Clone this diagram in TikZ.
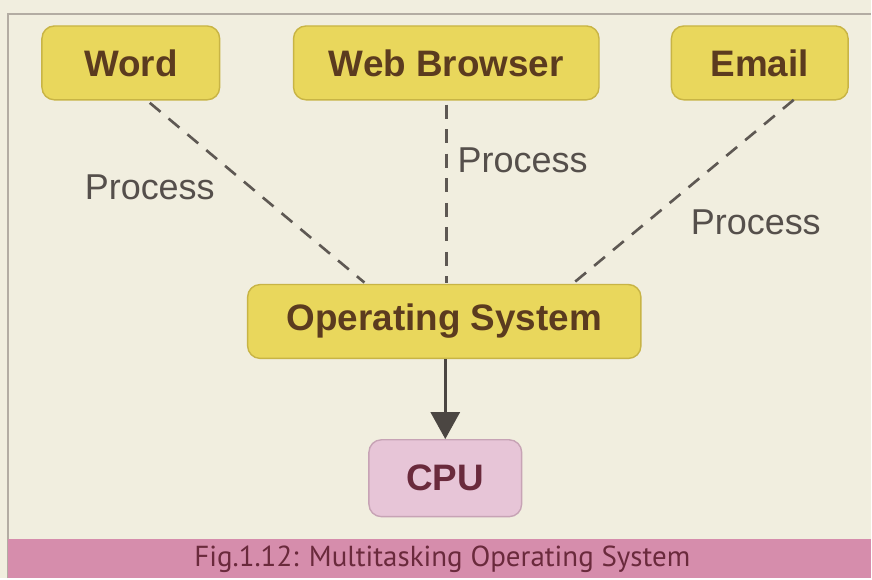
\documentclass[tikz,border=0pt]{standalone}
\usepackage{fontspec}
\setmainfont{Liberation Sans}
\newfontfamily\capfont{PT Sans}
\usetikzlibrary{arrows.meta}

\definecolor{paper}{HTML}{F1EEDF}
\definecolor{frameline}{HTML}{B3ACA3}
\definecolor{appfill}{HTML}{E9D75C}
\definecolor{appline}{HTML}{C8B445}
\definecolor{cpufill}{HTML}{E7C5D7}
\definecolor{cpuline}{HTML}{C7A3B5}
\definecolor{capbar}{HTML}{D68DAC}
\definecolor{captext}{HTML}{6A2A3C}
\definecolor{boxtext}{HTML}{5B3B1F}
\definecolor{linkgray}{HTML}{5E5853}

\begin{document}
\begin{tikzpicture}[x=0.02cm, y=-0.02cm,
		appbox/.style={draw=appline, line width=0.8pt, fill=appfill, rounded corners=0.25cm,
			text=boxtext, font=\fontsize{21}{24}\selectfont\bfseries, minimum height=1.48cm, inner sep=0pt},
		cpubox/.style={appbox, draw=cpuline, fill=cpufill, text=captext},
		proclink/.style={draw=linkgray, line width=1.5pt, dash pattern=on 8pt off 6pt},
		proclabel/.style={text=linkgray!90!black, font=\fontsize{20.5}{24}\selectfont, inner sep=0pt}]
		% background, frame and caption bar
		\fill[paper] (0,0) rectangle (872,579);
		\draw[frameline, line width=1.6pt] (8,579) -- (8,14) -- (872,14);
		\fill[capbar] (8,540) rectangle (872,579);
		\node[text=captext, font=\capfont\fontsize{16.5}{19}\selectfont, inner sep=0pt] (cap) at (443,560) {Fig.1.12: Multitasking Operating System};
		% application boxes
		\node[appbox, minimum width=3.56cm] (word) at (131,63) {Word};
		\node[appbox, minimum width=6.12cm] (web) at (447,63) {Web Browser};
		\node[appbox, minimum width=3.54cm] (mail) at (761,63) {Email};
		\node[appbox, minimum width=7.88cm] (os) at (445,322) {Operating System};
		\node[cpubox, minimum width=3.06cm, minimum height=1.54cm] (cpu) at (446,479) {CPU};
		% process links
		\draw[proclink] (150,103) -- (365,283);
		\draw[proclink] (web.south) ++(0,4) -- (447,283);
		\draw[proclink] (795,100) -- (575,283);
		\node[proclabel] (p1) at (150,188) {Process};
		\node[proclabel, anchor=west] (p2) at (458,161) {Process};
		\node[proclabel] (p3) at (757,223) {Process};
		% to the processor
		\draw[linkgray!80!black, line width=1.7pt, -{Triangle[length=0.54cm, width=0.58cm]}] (os.south -| cpu.north) -- (cpu.north);
\end{tikzpicture}
\end{document}
